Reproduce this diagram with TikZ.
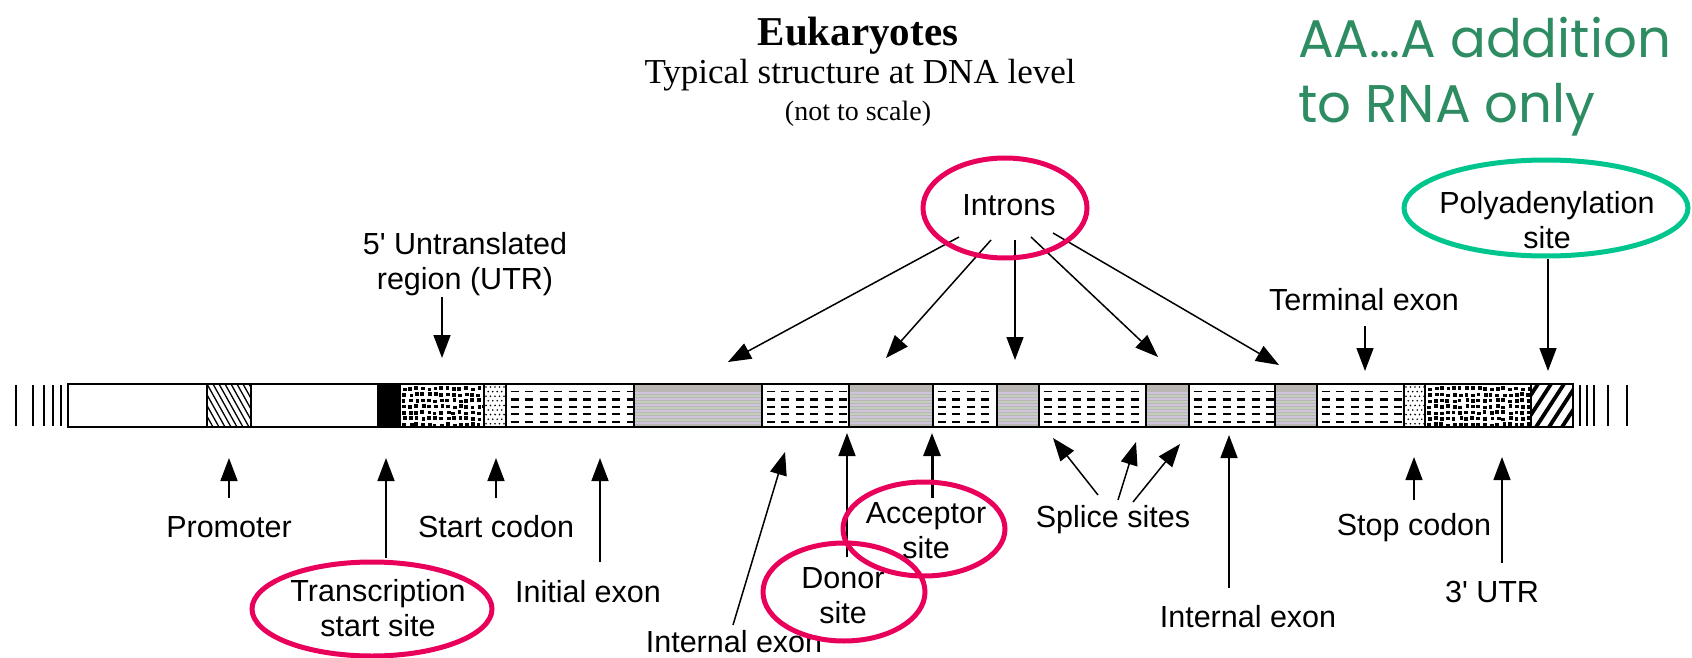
\documentclass[tikz,border=0pt]{standalone}
\usepackage{fontspec}
\setmainfont{Liberation Sans}
\newfontfamily\serifttl{Liberation Serif}
\newfontfamily\greenfnt{Poppins}
\newfontfamily\lblfont{Liberation Sans}[Ligatures=TeXOff]
\usetikzlibrary{arrows.meta}
\definecolor{ringpink}{RGB}{232,0,90}
\definecolor{ringgreen}{RGB}{0,198,142}
\definecolor{notegreen}{RGB}{46,140,98}
\definecolor{introngray}{RGB}{186,182,178}
\definecolor{graylav}{RGB}{206,196,222}
\definecolor{graygrn}{RGB}{196,206,190}

\newcommand\dashseg[2]{%
  \begin{scope}
    \clip (#1,384) rectangle (#2,427);
    \foreach \yy/\ww in {391.5/1.8, 399.3/3.2, 406.8/1.8, 414.3/1.8, 422/1.8}{
      \draw[line width=\ww pt, dash pattern=on 8pt off 6.5pt, dash phase=10pt] (#1,\yy) -- (#2,\yy);
    }
  \end{scope}}
\newcommand\grayseg[2]{%
  \fill[introngray] (#1,384) rectangle (#2,427);
  \foreach \yy in {393,399,...,423}{\draw[line width=1.3pt, graylav] (#1,\yy) -- (#2,\yy);}
  \foreach \yy in {396,402,...,423}{\draw[line width=1.3pt, graygrn] (#1,\yy) -- (#2,\yy);}
}
\newcommand\coarsedots[2]{%
  \begin{scope}
    \clip (#1,384) rectangle (#2,427);
    \pgfmathtruncatemacro\cdn{(#2-#1)/6.2}
    \foreach \i in {0,...,\cdn}{
      \foreach \j in {0,...,6}{
        \pgfmathsetmacro\px{#1+1.5+\i*6.2+rnd*2.2}
        \pgfmathsetmacro\py{386+\j*6+rnd*2}
        \fill (\px,\py) rectangle ++(3.8,3.5);
      }
    }
  \end{scope}}
\newcommand\finedots[2]{%
  \begin{scope}
    \clip (#1,384) rectangle (#2,427);
    \pgfmathtruncatemacro\fdn{(#2-#1)/4.5}
    \foreach \i in {0,...,\fdn}{
      \foreach \j in {0,...,8}{
        \pgfmathsetmacro\px{#1+2+\i*4.5+mod(\j,2)*2.2}
        \fill (\px,387+\j*4.6) circle (0.9);
      }
    }
  \end{scope}}

\begin{document}
\begin{tikzpicture}[x=1pt,y=-1pt,
  lbl/.style={font=\lblfont\fontsize{30.5}{35}\selectfont, align=center, inner sep=0pt},
  ptr/.style={line width=1.5pt, -{Triangle[length=23pt,width=17pt]}},
  ring/.style={line width=5pt},
  sep/.style={line width=1.5pt},
  tick/.style={line width=1.6pt}]
\useasboundingbox (0,0) rectangle (1692,658);
\pgfmathsetseed{11}

% ---- titles
\node[font=\serifttl\bfseries\fontsize{41}{48}\selectfont, anchor=base, inner sep=0pt] (ttl) at (858,46) {Eukaryotes};
\node[font=\serifttl\fontsize{35}{40}\selectfont, anchor=base, inner sep=0pt] (sub) at (860,84) {Typical structure at DNA level};
\node[font=\serifttl\fontsize{28}{32}\selectfont, anchor=base, inner sep=0pt] (nts) at (858,121) {(not to scale)};

\node[font=\greenfnt\fontsize{53}{60}\selectfont, text=notegreen, anchor=base west, inner sep=0pt] (aa) at (1298,58) {AA…A addition};
\node[font=\greenfnt\fontsize{53}{60}\selectfont, text=notegreen, anchor=base west, inner sep=0pt] (rna) at (1298,123) {to RNA only};

% ---- DNA bar
\fill[white] (68,384) rectangle (1573,427);
\begin{scope}
  \clip (207,384) rectangle (251,427);
  \foreach \xx in {171,177,...,251}{\draw[line width=1.3pt] (\xx,384) -- ++(24,43);}
\end{scope}
\fill (378,384) rectangle (400,427);
\coarsedots{400}{484}
\finedots{484}{506}
\dashseg{506}{634}
\grayseg{634}{762}
\dashseg{762}{849}
\grayseg{849}{933}
\dashseg{933}{997}
\grayseg{997}{1039}
\dashseg{1039}{1146}
\grayseg{1146}{1189}
\dashseg{1189}{1275}
\grayseg{1275}{1317}
\dashseg{1317}{1404}
\finedots{1404}{1425}
\coarsedots{1425}{1531}
\begin{scope}
  \clip (1531,384) rectangle (1573,427);
  \foreach \xx in {1510,1523,...,1580}{\draw[line width=3.8pt] (\xx,427) -- ++(28,-43);}
\end{scope}
\foreach \xx in {207,251,378,400,484,506,634,762,849,933,997,1039,1146,1189,1275,1317,1404,1425,1531}
  {\draw[sep] (\xx,384) -- (\xx,427);}
\draw[line width=2.6pt] (68,384) rectangle (1573,427);
\foreach \xx in {16,33,44,53,61}{\draw[tick] (\xx,385) -- (\xx,426);}
\foreach \xx in {1580,1587,1594,1608,1627}{\draw[tick] (\xx,385) -- (\xx,426);}

% ---- labels above (base = baseline of last line)
\node[lbl, anchor=base] (utr5) at (465,289) {5' Untranslated\\region (UTR)};
\node[lbl, anchor=base] (introns) at (1009,215) {Introns};
\node[lbl, anchor=base] (terminal) at (1364,310) {Terminal exon};
\node[lbl, anchor=base] (polya) at (1547,248) {Polyadenylation\\site};

% ---- labels below
\node[lbl, anchor=base] (promoter) at (229,537) {Promoter};
\node[lbl, anchor=base] (startcodon) at (496,537) {Start codon};
\node[lbl, anchor=base] (tss) at (378,636) {Transcription\\start site};
\node[lbl, anchor=base] (initexon) at (588,602) {Initial exon};
\node[lbl, anchor=base] (intexonA) at (734,652) {Internal exon};
\node[lbl, anchor=base] (donor) at (843,623) {Donor\\site};
\node[lbl, anchor=base] (acceptor) at (926,558) {Acceptor\\site};
\node[lbl, anchor=base] (splice) at (1113,527) {Splice sites};
\node[lbl, anchor=base] (intexonB) at (1248,627) {Internal exon};
\node[lbl, anchor=base] (stopcodon) at (1414,535) {Stop codon};
\node[lbl, anchor=base] (utr3) at (1492,602) {3' UTR};

% ---- arrow end coordinates
\coordinate (utr5s) at (442,297);   \coordinate (utr5t) at (442,358);
\coordinate (in1s) at (959,237);    \coordinate (in1t) at (728,362);
\coordinate (in2s) at (991,240);    \coordinate (in2t) at (886,358);
\coordinate (in3s) at (1015,240);   \coordinate (in3t) at (1015,360);
\coordinate (in4s) at (1031,237);   \coordinate (in4t) at (1158,357);
\coordinate (in5s) at (1053,233);   \coordinate (in5t) at (1279,365);
\coordinate (terms) at (1365,326);  \coordinate (termt) at (1365,371);
\coordinate (polys) at (1548,259);  \coordinate (polyt) at (1548,371);
\coordinate (proms) at (229,498);   \coordinate (promt) at (229,458);
\coordinate (tsss) at (386,558);    \coordinate (tsst) at (386,458);
\coordinate (stcs) at (496,498);    \coordinate (stct) at (496,458);
\coordinate (iexs) at (600,562);    \coordinate (iext) at (600,458);
\coordinate (inas) at (733,625);    \coordinate (inat) at (785,452);
\coordinate (dons) at (847,557);    \coordinate (dont) at (847,433);
\coordinate (accs) at (932,498);    \coordinate (acct) at (932,433);
\coordinate (sp1s) at (1098,495);   \coordinate (sp1t) at (1053,438);
\coordinate (sp2s) at (1118,500);   \coordinate (sp2t) at (1136,442);
\coordinate (sp3s) at (1133,502);   \coordinate (sp3t) at (1180,444);
\coordinate (inbs) at (1229,588);   \coordinate (inbt) at (1229,435);
\coordinate (stps) at (1414,500);   \coordinate (stpt) at (1414,457);
\coordinate (u3s) at (1502,563);    \coordinate (u3t) at (1502,457);

\draw[ptr] (utr5s) -- (utr5t);
\draw[ptr] (in1s) -- (in1t);
\draw[ptr] (in2s) -- (in2t);
\draw[ptr] (in3s) -- (in3t);
\draw[ptr] (in4s) -- (in4t);
\draw[ptr] (in5s) -- (in5t);
\draw[ptr] (terms) -- (termt);
\draw[ptr] (polys) -- (polyt);
\draw[ptr] (proms) -- (promt);
\draw[ptr] (tsss) -- (tsst);
\draw[ptr] (stcs) -- (stct);
\draw[ptr] (iexs) -- (iext);
\draw[ptr] (inas) -- (inat);
\draw[ptr] (dons) -- (dont);
\draw[ptr, line width=3pt] (accs) -- (acct);
\draw[ptr] (sp1s) -- (sp1t);
\draw[ptr] (sp2s) -- (sp2t);
\draw[ptr] (sp3s) -- (sp3t);
\draw[ptr] (inbs) -- (inbt);
\draw[ptr] (stps) -- (stpt);
\draw[ptr] (u3s) -- (u3t);

% ---- highlight rings
\draw[ring, ringpink] (1005,208) ellipse [x radius=82, y radius=50];
\draw[ring, ringgreen] (1546,208) ellipse [x radius=142, y radius=48];
\draw[ring, ringpink] (372,609) ellipse [x radius=120, y radius=47];
\draw[ring, ringpink] (844,592) ellipse [x radius=81, y radius=49];
\draw[ring, ringpink] (924,529) ellipse [x radius=81, y radius=47];
\end{tikzpicture}
\end{document}
